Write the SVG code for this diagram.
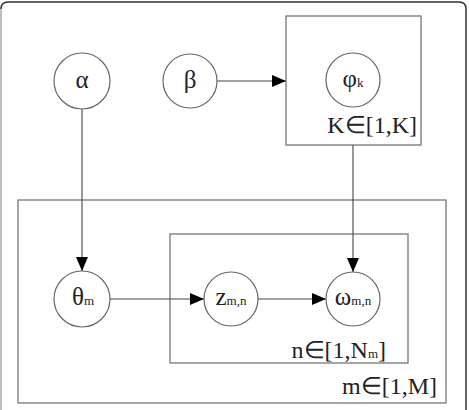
<svg xmlns="http://www.w3.org/2000/svg" width="469" height="410" viewBox="0 0 469 410" font-family="'Liberation Serif', 'Times New Roman', serif">
<style>
.node{fill:#fff;stroke:#666;stroke-width:1.2}
.plate{fill:none;stroke:#777;stroke-width:1.3}
.edge{fill:none;stroke:#444;stroke-width:1.1}
text{font-family:'Liberation Serif','Times New Roman',serif;fill:#222}
.sym{font-size:25px}
.sub{font-size:13px}
.lbl{font-size:24px}
</style>
<defs>
<marker id="ah" markerUnits="userSpaceOnUse" markerWidth="14" markerHeight="12" refX="14" refY="6" orient="auto">
<path d="M0,0 L14,6 L0,12 Z" fill="#000"/>
</marker>
</defs>
<g id="frame">
<path d="M1,9 Q1,2 8,2 L459,2 Q466,2 466,9 L466,420" fill="none" stroke="#333" stroke-width="1.5"/>
<path d="M1,9 L1,420" fill="none" stroke="#aaa" stroke-width="1.5"/>
</g>
<g id="plate-K">
<rect class="plate" x="286" y="16" width="135" height="129"/>
<text class="lbl" x="417" y="133" text-anchor="end">K∈[1,K]</text>
</g>
<g id="plate-M">
<rect class="plate" x="18" y="200" width="428" height="203"/>
<text class="lbl" x="437" y="394" text-anchor="end">m∈[1,M]</text>
</g>
<g id="plate-N">
<rect class="plate" x="170" y="234" width="238" height="129"/>
<text class="lbl" x="386" y="358" text-anchor="end">n∈[1,N<tspan class="sub">m</tspan>]</text>
</g>
<g id="connectors">
<line class="edge" x1="217" y1="81" x2="286" y2="81" marker-end="url(#ah)"/>
<line class="edge" x1="82" y1="109" x2="82" y2="271" marker-end="url(#ah)"/>
<line class="edge" x1="353" y1="145" x2="353" y2="272" marker-end="url(#ah)"/>
<line class="edge" x1="110" y1="299" x2="204" y2="299" marker-end="url(#ah)"/>
<line class="edge" x1="258" y1="299" x2="326" y2="299" marker-end="url(#ah)"/>
</g>
<g id="alpha">
<circle class="node" cx="82" cy="81" r="28"/>
<text class="sym" x="82" y="88" text-anchor="middle">α</text>
</g>
<g id="beta">
<circle class="node" cx="190" cy="81" r="27"/>
<text class="sym" x="190" y="88" text-anchor="middle">β</text>
</g>
<g id="phi">
<circle class="node" cx="353" cy="80" r="27"/>
<text class="sym" x="353" y="87" text-anchor="middle">φ<tspan class="sub">k</tspan></text>
</g>
<g id="theta">
<circle class="node" cx="82" cy="299" r="28"/>
<text class="sym" x="83" y="305" text-anchor="middle">θ<tspan class="sub">m</tspan></text>
</g>
<g id="z">
<circle class="node" cx="231" cy="299" r="27"/>
<text class="sym" x="231" y="305" text-anchor="middle">z<tspan class="sub">m,n</tspan></text>
</g>
<g id="omega">
<circle class="node" cx="353" cy="299" r="27"/>
<text class="sym" x="353" y="305" text-anchor="middle">ω<tspan class="sub">m,n</tspan></text>
</g>
</svg>
